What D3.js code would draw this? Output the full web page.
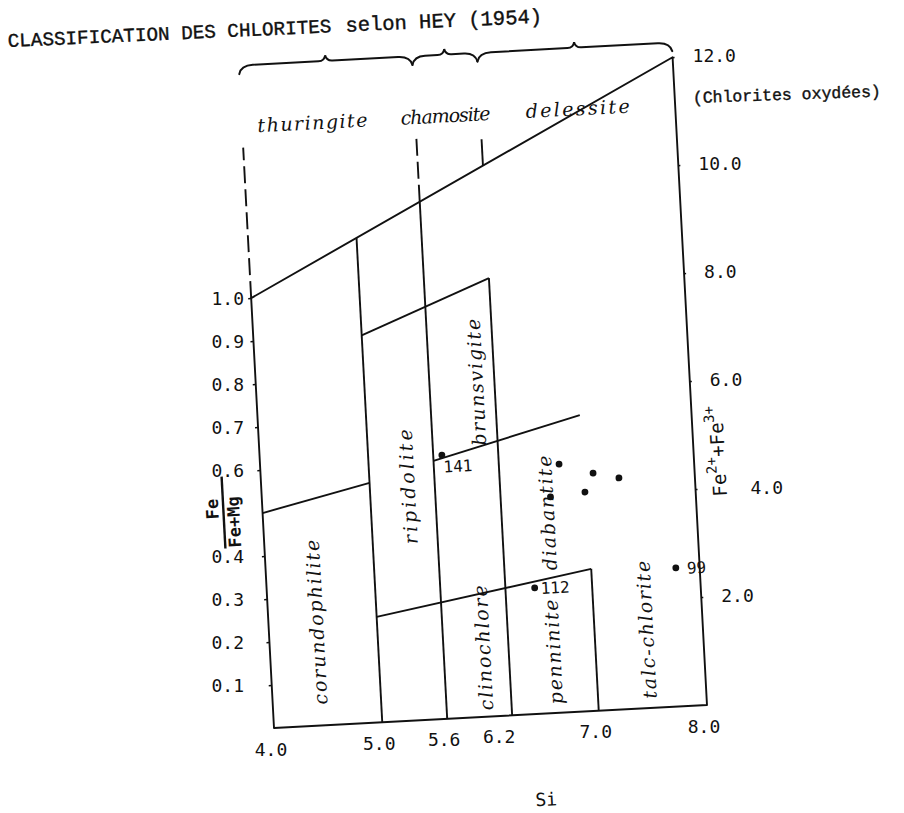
<!DOCTYPE html>
<html><head><meta charset="utf-8">
<script src="https://cdn.jsdelivr.net/npm/d3@7"></script>
<style>
body{margin:0;background:#fff}
svg{display:block}
.hand{font-family:"DejaVu Serif",serif;font-style:italic;fill:#111}
.mono{font-family:"DejaVu Sans Mono",monospace;fill:#111}
</style>
</head><body>
<svg id="c" width="904" height="813"></svg>
<script>
// ---- data ----
const siTicks = [4.0, 5.0, 5.6, 6.2, 7.0, 8.0];
const ratioTicks = [0.1, 0.2, 0.3, 0.4, 0.6, 0.7, 0.8, 0.9, 1.0];
const feTicks = [2.0, 4.0, 6.0, 8.0, 10.0, 12.0];

const fieldNames = ["corundophilite", "ripidolite", "brunsvigite", "clinochlore", "penninite", "diabantite", "talc-chlorite"];
const fieldSi    = [4.44, 5.35, 6.03, 5.965, 6.61, 6.62, 7.475];
const fieldRatio = [0.24, 0.543, 0.777, 0.16, 0.142, 0.465, 0.182];
const fieldLen   = [165, 115, 127, 125, 105, 115, 138];

const oxNames = ["thuringite", "chamosite", "delessite"];
const oxSi    = [4.65, 5.88, 7.1];
const oxLen   = [110, 90, 104];
const oxRanges = [[4.0, 5.6], [5.6, 6.2], [6.2, 8.0]];

// boundary segments [Si, Fe/(Fe+Mg)]  ("top" = on the oxidised-chlorite line)
const boundarySegments = [
  [[5.0, 0], [5.0, "top"]],
  [[5.6, 0], [5.6, "top"]],
  [[6.2, 0], [6.2, 1.017]],
  [[7.0, 0], [7.0, 0.33]],
  [[4.0, 0.50], [5.0, 0.557]],
  [[5.0, 0.90], [6.2, 1.017]],
  [[5.6, 0.60], [6.97, 0.688]],
  [[5.0, 0.245], [7.0, 0.33]]
];
const dashedAbove = [[4.0, 1.0, 1.35], [5.6, "top", 1.36]];
const tickAbove = [[6.2, "top", 1.34]];

const sampleIds    = ["141", "112", "99", "", "", "", "", ""];
const sampleSi     = [5.68, 6.47, 7.78, 6.755, 7.064, 7.30, 6.98, 6.66];
const sampleRatio  = [0.6125, 0.293, 0.322, 0.577, 0.552, 0.5375, 0.509, 0.502];

// ---- scales ----
const W = 433.6, HL = 430.5, HR = 648.7;
const O = [274, 728], ANG = -3.04;
const xS = d3.scaleLinear([4, 8], [0, W]);
const yL = d3.scaleLinear([0, 1], [0, -HL]);
const yR = d3.scaleLinear([0, 12], [0, -HR]);
const topY = d3.scaleLinear([4, 8], [yL(1.0), yR(12)]);
const py = (si, r) => r === "top" ? topY(si) : yL(r);
const P = (si, r) => [xS(si), py(si, r)];
// map a point of the (tilted) plot frame to page coordinates
const rad = ANG * Math.PI / 180;
const scr = (x, y) => [O[0] + x * Math.cos(rad) - y * Math.sin(rad), O[1] + x * Math.sin(rad) + y * Math.cos(rad)];

const svg = d3.select("#c");
const g = svg.append("g").attr("transform", `translate(${O[0]},${O[1]}) rotate(${ANG})`);
const line = d3.line();
const ink = "#111", sw = 1.9;

// frame
g.append("path")
  .attr("d", line([P(4, 0), P(8, 0), [xS(8), yR(12)], P(4, 1.0)]) + "Z")
  .attr("fill", "none").attr("stroke", ink).attr("stroke-width", sw).attr("stroke-linejoin", "round");

g.selectAll(".bd").data(boundarySegments).join("path")
  .attr("d", d => line(d.map(p => P(p[0], p[1]))))
  .attr("fill", "none").attr("stroke", ink).attr("stroke-width", sw);

g.selectAll(".da").data(dashedAbove).join("path")
  .attr("d", d => line([P(d[0], d[1]), P(d[0], d[2])]))
  .attr("stroke", ink).attr("stroke-width", sw).attr("stroke-dasharray", "17,6");

g.selectAll(".ta").data(tickAbove).join("path")
  .attr("d", d => line([P(d[0], d[1]), P(d[0], d[2])]))
  .attr("stroke", ink).attr("stroke-width", sw);

// braces over the oxidised chlorites
const bLevel = yL(1.541), bEnd = yL(1.521), bPeak = yL(1.554);
g.selectAll(".brace").data(oxRanges).join("path")
  .attr("d", d => {
    const a = xS(d[0]), b = xS(d[1]), m = (a + b) / 2, r = Math.min(14, (b - a) / 5);
    return `M${a},${bEnd} Q${a + 2},${bLevel} ${a + r},${bLevel} L${m - 7},${bLevel} Q${m - 1},${bLevel} ${m},${bPeak} Q${m + 1},${bLevel} ${m + 7},${bLevel} L${b - r},${bLevel} Q${b - 2},${bLevel} ${b},${bEnd}`;
  })
  .attr("fill", "none").attr("stroke", ink).attr("stroke-width", 2).attr("stroke-linecap", "round");

// axis tick marks (inside the tilted frame)
const axL = g.append("g").call(d3.axisLeft(yL).tickValues(ratioTicks).tickFormat("").tickSize(3).tickSizeOuter(0));
const axR = g.append("g").attr("transform", `translate(${W},0)`)
  .call(d3.axisRight(yR).tickValues(feTicks).tickFormat("").tickSize(2).tickSizeOuter(0));
[axL, axR].forEach(a => {
  a.select(".domain").remove();
  a.selectAll("line").attr("stroke", ink).attr("stroke-width", 1.5);
});

// typed tick labels (upright on the page)
const fmt = d3.format(".1f");
const labelFont = 18;
const leftEdge = scr(0, 0)[0] - 30;
svg.selectAll(".ll").data(ratioTicks).join("text").attr("class", "mono")
  .attr("font-size", labelFont).attr("text-anchor", "end").attr("dominant-baseline", "central")
  .attr("x", leftEdge).attr("y", d => scr(0, yL(d))[1]).text(fmt);
const rightShift = { 4: 35 };
svg.selectAll(".rl").data(feTicks).join("text").attr("class", "mono")
  .attr("font-size", labelFont).attr("dominant-baseline", "central")
  .attr("x", d => scr(W, yR(d))[0] + 20 + (rightShift[d] || 0)).attr("y", d => scr(W, yR(d))[1] - 2).text(fmt);
const bottomShift = { 6.2: -10 };
svg.selectAll(".bl").data(siTicks).join("text").attr("class", "mono")
  .attr("font-size", labelFont).attr("text-anchor", "middle").attr("dominant-baseline", "central")
  .attr("x", d => scr(xS(d), 0)[0] - 3 + (bottomShift[d] || 0)).attr("y", d => scr(xS(d), 0)[1] + 21).text(fmt);

// right axis title Fe2+ + Fe3+
const rt = g.append("text").attr("class", "mono").attr("font-size", 19)
  .attr("text-anchor", "middle")
  .attr("transform", `translate(${W + 31},${yR(4.68)}) rotate(-90)`);
rt.append("tspan").text("Fe");
rt.append("tspan").attr("font-size", 14).attr("dy", -9).text("2+");
rt.append("tspan").attr("dy", 9).text("+Fe");
rt.append("tspan").attr("font-size", 14).attr("dy", -9).text("3+");

// left axis title Fe / (Fe+Mg)
const ft = g.append("g").attr("transform", `translate(-39,${yL(0.506)}) rotate(-90)`);
ft.append("line").attr("x1", -36).attr("x2", 36).attr("y1", 0).attr("y2", 0).attr("stroke", ink).attr("stroke-width", 2.4);
ft.append("text").attr("class", "mono").attr("font-size", 17).attr("font-weight", "bold")
  .attr("text-anchor", "middle").attr("x", 4).attr("y", -5).text("Fe");
ft.append("text").attr("class", "mono").attr("font-size", 17).attr("font-weight", "bold")
  .attr("text-anchor", "middle").attr("x", -10).attr("y", 16).text("Fe+Mg");

// bottom axis title
g.append("text").attr("class", "mono").attr("font-size", 18).attr("text-anchor", "middle")
  .attr("x", xS(4) + 0.618 * W).attr("y", 92).text("Si");

// field names
g.selectAll(".fn").data(fieldNames).join("text").attr("class", "hand")
  .attr("font-size", 19).attr("text-anchor", "middle").attr("dominant-baseline", "central")
  .attr("textLength", (d, i) => fieldLen[i]).attr("lengthAdjust", "spacing")
  .attr("transform", (d, i) => `translate(${xS(fieldSi[i])},${yL(fieldRatio[i])}) rotate(-90)`)
  .text(d => d);

g.selectAll(".on").data(oxNames).join("text").attr("class", "hand")
  .attr("font-size", 19).attr("text-anchor", "middle").attr("dominant-baseline", "central")
  .attr("textLength", (d, i) => oxLen[i]).attr("lengthAdjust", "spacing")
  .attr("x", (d, i) => xS(oxSi[i])).attr("y", yL(1.40))
  .text(d => d);

// samples
const samples = sampleSi.map((s, i) => ({ si: s, r: sampleRatio[i], id: sampleIds[i] }));
const nudge = { "141": [1, 12], "112": [6, 1], "99": [11, 1] };
g.selectAll(".pt").data(samples).join("circle")
  .attr("cx", d => xS(d.si)).attr("cy", d => yL(d.r)).attr("r", 3.4).attr("fill", ink);
g.selectAll(".pl").data(samples.filter(d => d.id)).join("text").attr("class", "mono")
  .attr("font-size", 16).attr("dominant-baseline", "central")
  .attr("x", d => xS(d.si) + nudge[d.id][0]).attr("y", d => yL(d.r) + nudge[d.id][1])
  .text(d => d.id);

// headings
svg.append("text").attr("transform", "translate(8,47) rotate(-2.6)")
  .attr("font-family", "Liberation Mono, monospace").attr("fill", ink).attr("stroke", ink).attr("stroke-width", 0.4)
  .call(t => {
    t.append("tspan").attr("font-size", 19.3).text("CLASSIFICATION DES CHLORITES");
    t.append("tspan").attr("dx", 14).attr("font-size", 20.5).text("selon HEY (1954)");
  });
svg.append("text").attr("transform", "translate(693,103) rotate(-2)")
  .attr("font-family", "Liberation Mono, monospace").attr("font-size", 16.5).attr("fill", ink)
  .attr("stroke", ink).attr("stroke-width", 0.4)
  .text("(Chlorites oxydées)");
</script>
</body></html>
